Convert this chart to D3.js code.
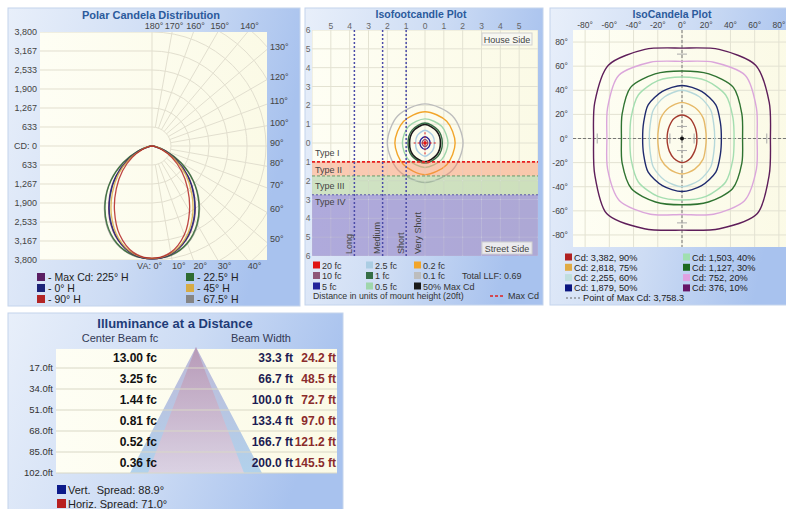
<!DOCTYPE html>
<html><head><meta charset="utf-8">
<script src="https://cdn.jsdelivr.net/npm/d3@7/dist/d3.min.js"></script>
<style>
body{margin:0;background:#fff}
svg{display:block}
text{font-family:"Liberation Sans",Arial,sans-serif}
</style>
</head><body>
<svg id="c" width="786" height="509"></svg>
<script>
// ---------------- DATA ----------------
// Polar candela distribution (candela vs vertical angle)
const polarAngles = [0,10,20,30,40,50,60,70,80,90];
const cdMax225 = [3758,3660,3330,2820,2200,1580,950,430,110,0];
const cdH0     = [3758,3650,3310,2790,2170,1550,930,415,100,0];
const cdH90    = [3740,3600,3150,2500,1850,1280,760,340,80,0];
const cdH225   = [3758,3690,3440,3000,2420,1780,1100,500,130,0];
const cdH45    = [3750,3640,3270,2700,2060,1460,870,385,95,0];
const cdH675   = [3755,3700,3460,3030,2450,1800,1120,510,135,0];
const polarNames = ["- Max Cd: 225° H","- 0° H","- 90° H","- 22.5° H","- 45° H","- 67.5° H"];
const polarCdTicks = [633,1267,1900,2533,3167,3800];
const polarRings = [633,1267,1900,2533,3167,3800,4433,5067,5700,6333];
const polarGridAngles = [0,10,20,30,40,50,60,70,80,90,100,110,120,130,140,150,160,170,180];
const polarTopLabels = [180,170,160,150,140];
const polarRightLabels = [130,120,110,100,90,80,70,60,50];
const polarBottomLabels = [0,10,20,30,40];

// Isofootcandle plot (radius in mounting heights at each angle)
const isoAngles = [0,45,90,135,180,225,270,315];
const fc01  = [2.02,2.05,2.08,2.04,2.00,2.03,2.10,2.05];
const fc02  = [1.60,1.63,1.66,1.62,1.60,1.62,1.68,1.63];
const fc05  = [1.22,1.25,1.28,1.24,1.20,1.25,1.30,1.25];
const fc1   = [0.92,0.97,1.06,0.97,0.90,0.98,1.08,0.98];
const fcMax50 = [0.82,0.88,0.98,0.89,0.82,0.90,1.00,0.88];
const fc25  = [0.50,0.57,0.68,0.57,0.50,0.58,0.70,0.57];
const fc5   = [0.27,0.29,0.33,0.29,0.27,0.29,0.34,0.29];
const fc10  = [0.15,0.16,0.19,0.16,0.15,0.16,0.20,0.16];
const fc20Radius = 0.09;
const fcLegend = ["20 fc","10 fc","5 fc","2.5 fc","1 fc","0.5 fc","0.2 fc","0.1 fc","50% Max Cd"];
const isoTicks = [-6,-5,-4,-3,-2,-1,0,1,2,3,4,5,6];
const isoTopTicks = [-5,-4,-3,-2,-1,0,1,2,3,4,5];
const typeNames = ["Type I","Type II","Type III","Type IV"];
const typeBounds = [0,-1,-1.75,-2.75,-6];
const rangeLines = [-1,-2.25,-3.75];
const totalLLF = 0.69;
const maxCdLine = -1;

// IsoCandela plot (radius in degrees at each angle)
const icAngles = [0,22.5,45,67.5,90,112.5,135,157.5,180,202.5,225,247.5,270,292.5,315,337.5];
const ic90 = [12.3,12.9,14.7,17.7,19.5,17.7,14.7,12.9,12.3,12.9,14.8,17.8,20,17.9,14.8,13];
const ic75 = [20,21,24.5,27.8,30,27.8,24.5,21,20,21,24.5,27.5,29.5,27.5,24.5,21];
const ic60 = [27,28.5,33.5,37.5,40,37.5,33.5,28.5,27,28.5,33.5,37.5,40,37.5,33.5,28.5];
const ic50 = [32.5,34.3,39.5,42.3,44,42.3,39.5,34.3,32.5,34.3,39.5,42.3,44,42.3,39.5,34.3];
const ic40 = [43,45.5,51,52,51,52,51,45.5,43,45.5,51,52,51,52,51,45.5];
const ic30 = [50,53.5,60,58,56,58,60,53.5,50,53.5,59,57,55,57,59,53.5];
const ic20 = [62,66.5,74,68.5,64,68.5,74,66.5,62,66.5,73,68,63,68,73,66.5];
const ic10 = [73,78,86,80,75,80,86,78,73,78,88,81,76,81,88,78];
const icCd = [3382,2818,2255,1879,1503,1127,752,376];
const icPct = [90,75,60,50,40,30,20,10];
const icMaxCd = 3758.3;
const icTicks = [-80,-60,-40,-20,0,20,40,60,80];

// Illuminance at a distance
const distFt = [17,34,51,68,85,102];
const centerFc = [13.00,3.25,1.44,0.81,0.52,0.36];
const vertWidth = [33.3,66.7,100.0,133.4,166.7,200.0];
const horizWidth = [24.2,48.5,72.7,97.0,121.2,145.5];
const vertSpread = 88.9;
const horizSpread = 71.0;

// ---------------- STYLES ----------------
const polarColors = ["#5b1f63","#1c2378","#b32525","#2f6b30","#d6ab45","#858585"];
const fcColors = ["#e01414","#8e5577","#23239a","#aacde3","#356e45","#9fd6ab","#f2a52a","#bdbdbd","#1a1a1a"];
const icColors = ["#a33a2e","#e6b968","#b6d8da","#1f2a6e","#a4deb0","#2f7331","#dba6db","#5e1e5a"];
const icLegendColors = ["#b02020","#e0aa44","#c0dede","#0a1580","#a0e0b0","#1e6a20","#e0a0e0","#661466"];

const svg = d3.select("#c");
const defs = svg.append("defs");
const pg = defs.append("linearGradient").attr("id","pbg").attr("x1",0).attr("y1",0).attr("x2",1).attr("y2",0.25);
pg.append("stop").attr("offset",0).attr("stop-color","#e8effa");
pg.append("stop").attr("offset",0.55).attr("stop-color","#cddcf4");
pg.append("stop").attr("offset",1).attr("stop-color","#a8c2ee");
const cream = defs.append("linearGradient").attr("id","cream").attr("x1",0).attr("y1",0).attr("x2",1).attr("y2",0);
cream.append("stop").attr("offset",0).attr("stop-color","#fefef4");
cream.append("stop").attr("offset",1).attr("stop-color","#fbfae6");

function panel(x,y,w,h){
  svg.append("rect").attr("x",x).attr("y",y).attr("width",w).attr("height",h)
    .attr("fill","url(#pbg)").attr("stroke","#c4d4ec").attr("stroke-width",1);
}
function T(g,x,y,s,size,opt){
  opt = opt||{};
  const t = g.append("text").attr("x",x).attr("y",y).attr("font-size",size)
    .attr("fill",opt.fill||"#333").attr("text-anchor",opt.anchor||"start").text(s);
  if(opt.bold) t.attr("font-weight","bold");
  if(opt.family) t.attr("font-family",opt.family);
  if(opt.pre) t.style("white-space","pre");
  return t;
}
const SERIF = '"Liberation Serif","Times New Roman",serif';

// ================= PANEL 1: POLAR =================
panel(8,8,292,298);
const p1 = svg.append("g");
T(p1,151,19,"Polar Candela Distribution",11,{bold:true,fill:"#2b5a9c",anchor:"middle"});
const cx=152, cy=146, px0=40, px1=267, py0=32, py1=260;
const rS = d3.scaleLinear().domain([0,3800]).range([0,114]);
defs.append("clipPath").attr("id","clip1").append("rect").attr("x",px0).attr("y",py0).attr("width",px1-px0).attr("height",py1-py0);
p1.append("rect").attr("x",px0).attr("y",py0).attr("width",px1-px0).attr("height",py1-py0).attr("fill","url(#cream)");
const g1 = p1.append("g").attr("clip-path","url(#clip1)");
const gridC = "#e2dfcf";
[-1,1].forEach(s=>polarCdTicks.forEach(v=>{
  g1.append("line").attr("x1",px0).attr("x2",cx).attr("y1",cy+s*rS(v)).attr("y2",cy+s*rS(v)).attr("stroke",gridC);
}));
g1.append("line").attr("x1",px0).attr("x2",cx).attr("y1",cy).attr("y2",cy).attr("stroke",gridC);
polarRings.forEach(v=>{
  const p = d3.path(); const R = rS(v);
  p.moveTo(cx,cy-R); p.arc(cx,cy,R,-Math.PI/2,Math.PI/2,false);
  g1.append("path").attr("d",p.toString()).attr("fill","none").attr("stroke",gridC);
});
polarGridAngles.forEach(a=>{
  const t=a*Math.PI/180, r0 = (a===0||a===180)?0:rS(633);
  g1.append("line").attr("x1",cx+r0*Math.sin(t)).attr("y1",cy+r0*Math.cos(t))
    .attr("x2",cx+320*Math.sin(t)).attr("y2",cy+320*Math.cos(t)).attr("stroke",gridC);
});
// curves
const polarSeries = [cdMax225,cdH0,cdH90,cdH225,cdH45,cdH675];
const drawOrder = [5,3,0,1,4,2];
const pLine = d3.line().x(d=>cx+d[0]*rS(d[2])*Math.sin(d[1]*Math.PI/180))
  .y(d=>cy+rS(d[2])*Math.cos(d[1]*Math.PI/180)).curve(d3.curveCatmullRom.alpha(0.5));
drawOrder.forEach(i=>{
  const vals = polarSeries[i], pts=[];
  for(let k=polarAngles.length-1;k>=0;k--) pts.push([-1,polarAngles[k],vals[k]]);
  for(let k=1;k<polarAngles.length;k++) pts.push([1,polarAngles[k],vals[k]]);
  g1.append("path").attr("d",pLine(pts)).attr("fill","none").attr("stroke",polarColors[i]).attr("stroke-width",1.3).attr("opacity",0.85);
});
// left labels
const fmt = d3.format(",");
polarCdTicks.forEach(v=>{
  T(p1,37,cy-rS(v)+3,fmt(v),9,{anchor:"end",fill:"#444"});
  T(p1,37,cy+rS(v)+3,fmt(v),9,{anchor:"end",fill:"#444"});
});
T(p1,37,cy+3,"CD: 0",9,{anchor:"end",fill:"#444"});
polarTopLabels.forEach(a=>{
  const t=a*Math.PI/180, k=(py0-cy)/Math.cos(t);
  T(p1,cx+k*Math.sin(t)+2,29,a+"°",9,{anchor:"middle",fill:"#444"});
});
polarRightLabels.forEach(a=>{
  const t=a*Math.PI/180;
  const yy = Math.abs(Math.cos(t))<1e-6 ? cy : cy + (px1-cx)*Math.cos(t)/Math.sin(t);
  T(p1,px1+3,yy,a+"°",9,{fill:"#444"});
});
polarBottomLabels.forEach(a=>{
  const t=a*Math.PI/180, k=(py1-cy)/Math.cos(t), x=cx+k*Math.sin(t);
  if(a===0) T(p1,x+10,269,"VA: 0°",9,{anchor:"end",fill:"#444"});
  else T(p1,x,269,a+"°",9,{fill:"#444"});
});
// legend
polarNames.forEach((n,i)=>{
  const col=Math.floor(i/3), row=i%3;
  const x = col? 186:37, y = 277+row*11;
  p1.append("rect").attr("x",x).attr("y",y-4).attr("width",8).attr("height",8).attr("fill",polarColors[i]);
  T(p1,x+11,y+4,n,10.5,{fill:"#222"});
});

// ================= PANEL 2: ISOFOOTCANDLE =================
panel(305,8,238,297);
const p2 = svg.append("g");
T(p2,421,18,"Isofootcandle Plot",10.5,{bold:true,fill:"#2b5a9c",anchor:"middle",family:SERIF});
const ix = d3.scaleLinear().domain([-6,6]).range([312,538]);
const iy = d3.scaleLinear().domain([-6,6]).range([256,30]);
defs.append("clipPath").attr("id","clip2").append("rect").attr("x",312).attr("y",30).attr("width",226).attr("height",226);
p2.append("rect").attr("x",312).attr("y",30).attr("width",226).attr("height",226).attr("fill","url(#cream)");
const g2 = p2.append("g").attr("clip-path","url(#clip2)");
isoTicks.forEach(v=>{
  g2.append("line").attr("x1",ix(v)).attr("x2",ix(v)).attr("y1",30).attr("y2",256).attr("stroke","#e3e2d2");
  g2.append("line").attr("y1",iy(v)).attr("y2",iy(v)).attr("x1",312).attr("x2",538).attr("stroke","#e3e2d2");
});
const isoLine = d3.line().x(d=>ix(d[1]*Math.cos(d[0]*Math.PI/180)))
  .y(d=>iy(d[1]*Math.sin(d[0]*Math.PI/180))).curve(d3.curveCardinalClosed.tension(0.1));
const isoSeries = [[fc01,7],[fc02,6],[fc05,5],[fc1,4],[fcMax50,8],[fc25,3],[fc5,2],[fc10,1]];
isoSeries.forEach(([vals,ci])=>{
  const pts = isoAngles.map((a,k)=>[a,vals[k]]);
  g2.append("path").attr("d",isoLine(pts)).attr("fill","none").attr("stroke",fcColors[ci]).attr("stroke-width",ci===8?1.6:1.4);
});
g2.append("circle").attr("cx",ix(0)).attr("cy",iy(0)).attr("r",ix(fc20Radius)-ix(0)).attr("fill",fcColors[0]);
[[-0.6,0,0.6,0],[0,-0.6,0,0.6]].forEach(s=>{
  g2.append("line").attr("x1",ix(s[0])).attr("y1",iy(s[1])).attr("x2",ix(s[2])).attr("y2",iy(s[3]))
    .attr("stroke","#e02020").attr("stroke-dasharray","2,2").attr("stroke-width",1);
});
// bands
const bandFills = [null,"rgba(245,130,90,0.42)","rgba(120,175,110,0.35)","rgba(95,85,195,0.5)"];
typeNames.forEach((n,i)=>{
  if(bandFills[i]) g2.append("rect").attr("x",312).attr("width",226).attr("y",iy(typeBounds[i])).attr("height",iy(typeBounds[i+1])-iy(typeBounds[i])).attr("fill",bandFills[i]);
});
isoTicks.forEach(v=>{
  g2.append("line").attr("x1",ix(v)).attr("x2",ix(v)).attr("y1",iy(-1)).attr("y2",256).attr("stroke","rgba(255,255,255,0.25)");
  if(v<-1) g2.append("line").attr("y1",iy(v)).attr("y2",iy(v)).attr("x1",312).attr("x2",538).attr("stroke","rgba(255,255,255,0.25)");
});
g2.append("line").attr("x1",312).attr("x2",538).attr("y1",iy(typeBounds[2])).attr("y2",iy(typeBounds[2])).attr("stroke","#6a9a6a").attr("stroke-dasharray","3,2");
g2.append("line").attr("x1",312).attr("x2",538).attr("y1",iy(typeBounds[3])).attr("y2",iy(typeBounds[3])).attr("stroke","#5a5aa8").attr("stroke-dasharray","2,2");
g2.append("line").attr("x1",312).attr("x2",538).attr("y1",iy(maxCdLine)).attr("y2",iy(maxCdLine)).attr("stroke","#e82020").attr("stroke-width",1.6).attr("stroke-dasharray","3,2");
rangeLines.forEach(v=>{
  g2.append("line").attr("x1",ix(v)).attr("x2",ix(v)).attr("y1",30).attr("y2",256).attr("stroke","#4b4ba8").attr("stroke-width",1.5).attr("stroke-dasharray","2,2");
});
const typeLabelY = [-0.55,-1.45,-2.3,-3.15];
typeNames.forEach((n,i)=>T(g2,315,iy(typeLabelY[i])+3,n,9,{fill:"#444"}));
const rangeLabelX = [ix(-0.2), ix(rangeLines[0])-2.5, ix(rangeLines[1])-2.5, ix(rangeLines[2])-2.5];
["Very Short","Short","Medium","Long"].forEach((n,i)=>{
  g2.append("text").attr("transform",`translate(${rangeLabelX[i]},254) rotate(-90)`).attr("font-size",9).attr("fill","#444").text(n);
});
[["House Side",33],["Street Side",242]].forEach(([n,y])=>{
  g2.append("rect").attr("x",482).attr("y",y).attr("width",50).attr("height",12).attr("fill","rgba(246,246,242,0.85)").attr("stroke","#d0d0d0");
  T(g2,507,y+9.5,n,9,{anchor:"middle",fill:"#444"});
});
isoTopTicks.forEach(v=>T(p2,ix(v),29,String(Math.abs(v)),8.5,{anchor:"middle",fill:"#666"}));
isoTicks.forEach(v=>T(p2,308,iy(v)+3,String(Math.abs(v)),8.5,{anchor:"middle",fill:"#666"}));
fcLegend.forEach((n,i)=>{
  const col=Math.floor(i/3), row=i%3;
  const x=[313,366,414][col], y=265+row*10.5;
  p2.append("rect").attr("x",x).attr("y",y-3.5).attr("width",7).attr("height",7).attr("fill",fcColors[i]);
  T(p2,x+9,y+3.5,n,9,{fill:"#333"});
});
T(p2,462,279,"Total LLF: "+totalLLF,9,{fill:"#333"});
T(p2,313,299,"Distance in units of mount height (20ft)",8.8,{fill:"#333"});
p2.append("line").attr("x1",490).attr("x2",505).attr("y1",296).attr("y2",296).attr("stroke","#e02020").attr("stroke-width",1.5).attr("stroke-dasharray","3,2");
T(p2,508,299,"Max Cd",9,{fill:"#333"});

// ================= PANEL 3: ISOCANDELA =================
panel(550,8,250,297);
const p3 = svg.append("g");
T(p3,672,18,"IsoCandela Plot",10.5,{bold:true,fill:"#2b5a9c",anchor:"middle",family:SERIF});
const cxs = d3.scaleLinear().domain([-90,90]).range([573,791]);
const cys = d3.scaleLinear().domain([-90,90]).range([247,30]);
defs.append("clipPath").attr("id","clip3").append("rect").attr("x",573).attr("y",30).attr("width",218).attr("height",217);
p3.append("rect").attr("x",573).attr("y",30).attr("width",218).attr("height",217).attr("fill","url(#cream)");
const g3 = p3.append("g").attr("clip-path","url(#clip3)");
icTicks.forEach(v=>{
  g3.append("line").attr("x1",cxs(v)).attr("x2",cxs(v)).attr("y1",30).attr("y2",247).attr("stroke","#e3e2d2");
  g3.append("line").attr("y1",cys(v)).attr("y2",cys(v)).attr("x1",573).attr("x2",791).attr("stroke","#e3e2d2");
});
g3.append("line").attr("x1",cxs(0)).attr("x2",cxs(0)).attr("y1",30).attr("y2",247).attr("stroke","#777").attr("stroke-dasharray","3,2");
g3.append("line").attr("y1",cys(0)).attr("y2",cys(0)).attr("x1",573).attr("x2",791).attr("stroke","#777").attr("stroke-dasharray","3,2");
[-70,-10,10,70].forEach(v=>{
  g3.append("line").attr("x1",cxs(0)-5).attr("x2",cxs(0)+5).attr("y1",cys(v)).attr("y2",cys(v)).attr("stroke","#aaa");
  g3.append("line").attr("y1",cys(0)-5).attr("y2",cys(0)+5).attr("x1",cxs(v)).attr("x2",cxs(v)).attr("stroke","#aaa");
});
const icLine = d3.line().x(d=>cxs(d[1]*Math.cos(d[0]*Math.PI/180)))
  .y(d=>cys(d[1]*Math.sin(d[0]*Math.PI/180))).curve(d3.curveCardinalClosed.tension(0.2));
const icSeries = [ic90,ic75,ic60,ic50,ic40,ic30,ic20,ic10];
icSeries.forEach((vals,i)=>{
  const pts = icAngles.map((a,k)=>[a,vals[k]]);
  g3.append("path").attr("d",icLine(pts)).attr("fill","none").attr("stroke",icColors[i]).attr("stroke-width",1.4);
});
g3.append("circle").attr("cx",cxs(0)).attr("cy",cys(0)).attr("r",2).attr("fill","#111");
icTicks.forEach(v=>{
  T(p3,cxs(v),28,v+"°",8.5,{anchor:"middle",fill:"#444"});
  T(p3,568,cys(v)+3,v+"°",8.5,{anchor:"end",fill:"#444"});
});
icCd.forEach((c,i)=>{
  const col=Math.floor(i/4), row=i%4;
  const x = col?683:565, y = 257+row*10.3;
  p3.append("rect").attr("x",x).attr("y",y-3.5).attr("width",7).attr("height",7).attr("fill",icLegendColors[i]);
  T(p3,x+9,y+3.5,"Cd: "+fmt(c)+", "+icPct[i]+"%",9.2,{fill:"#222"});
});
p3.append("line").attr("x1",566).attr("x2",580).attr("y1",298).attr("y2",298).attr("stroke","#666").attr("stroke-dasharray","2,2");
T(p3,583,301,"Point of Max Cd: "+d3.format(",.1f")(icMaxCd),9.2,{fill:"#222"});

// ================= PANEL 4: ILLUMINANCE =================
panel(8,313,335,210);
const p4 = svg.append("g");
T(p4,175,328,"Illuminance at a Distance",13,{bold:true,fill:"#1f3c78",anchor:"middle",family:SERIF});
T(p4,120,342,"Center Beam fc",11,{anchor:"middle",fill:"#333a55"});
T(p4,261,342,"Beam Width",11,{anchor:"middle",fill:"#333a55"});
const dy = d3.scaleLinear().domain([0,102]).range([347,473]);
const wS = d3.scaleLinear().domain([0,100]).range([0,66]);
const apexX = 196;
p4.append("rect").attr("x",56).attr("y",dy(1.6)).attr("width",281).attr("height",dy(102)-dy(1.6)).attr("fill","url(#cream)");
const tg1 = defs.append("linearGradient").attr("id","tblue").attr("x1",0).attr("y1",0).attr("x2",0).attr("y2",1);
tg1.append("stop").attr("offset",0).attr("stop-color","#b7b2d6");
tg1.append("stop").attr("offset",1).attr("stop-color","#a9cdec");
const tg2 = defs.append("linearGradient").attr("id","tpink").attr("x1",0).attr("y1",0).attr("x2",0).attr("y2",1);
tg2.append("stop").attr("offset",0).attr("stop-color","#b590ad");
tg2.append("stop").attr("offset",1).attr("stop-color","#e8d2e0");
const conePts = w => [[apexX,dy(0)]].concat(distFt.map((d,i)=>[apexX+wS(w[i]/2),dy(d)])).concat(distFt.slice().reverse().map((d,i)=>[apexX-wS(w[w.length-1-i]/2),dy(d)]));
p4.append("path").attr("d",d3.line()(conePts(vertWidth))+"Z").attr("fill","url(#tblue)").attr("opacity",0.9);
p4.append("path").attr("d",d3.line()(conePts(horizWidth))+"Z").attr("fill","url(#tpink)").attr("opacity",0.75);
distFt.forEach((d,i)=>{
  const yb = dy(d);
  p4.append("line").attr("x1",56).attr("x2",337).attr("y1",yb).attr("y2",yb).attr("stroke","#d9d8c6");
  T(p4,53,yb+3,d.toFixed(1)+"ft",9.5,{anchor:"end",fill:"#333"});
  const yt = yb-6;
  T(p4,157,yt,centerFc[i].toFixed(2)+" fc",12,{anchor:"end",bold:true,fill:"#111"});
  T(p4,293,yt,vertWidth[i].toFixed(1)+" ft",12,{anchor:"end",bold:true,fill:"#1c1c52"});
  T(p4,336,yt,horizWidth[i].toFixed(1)+" ft",12,{anchor:"end",bold:true,fill:"#8a2b2b"});
});
p4.append("rect").attr("x",57).attr("y",485).attr("width",9).attr("height",9).attr("fill","#0c1a8a");
T(p4,68,494,"Vert.  Spread: "+vertSpread.toFixed(1)+"°",11,{fill:"#222",pre:true});
p4.append("rect").attr("x",57).attr("y",499).attr("width",9).attr("height",9).attr("fill","#b82020");
T(p4,68,508,"Horiz. Spread: "+horizSpread.toFixed(1)+"°",11,{fill:"#222",pre:true});
</script>
</body></html>
